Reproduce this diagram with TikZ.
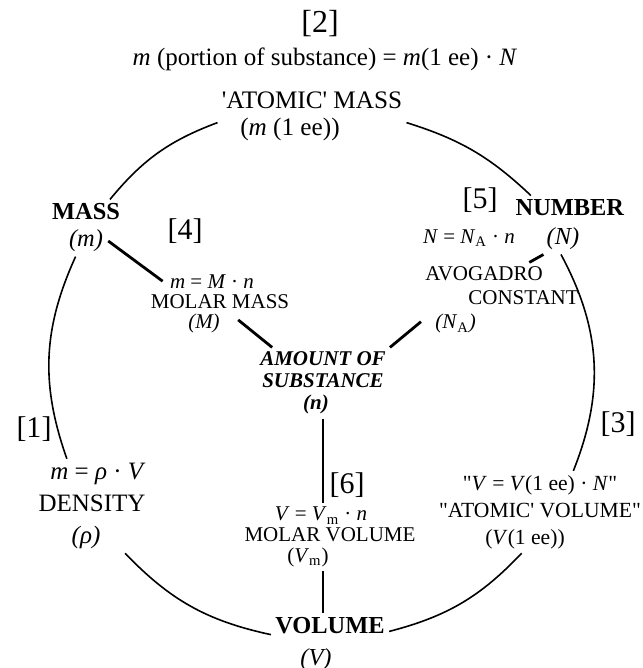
\documentclass[tikz,border=0pt]{standalone}
\usepackage{fontspec}
\setmainfont{Liberation Serif}
\tikzset{tag/.style={font=\fontsize{15}{16}\selectfont,inner sep=1pt},qty/.style={align=center,inner sep=2pt,font=\fontsize{12.2}{13.5}\selectfont},rel/.style={align=center,inner sep=2pt,font=\fontsize{10.5}{10}\selectfont},ring/.style={line width=0.8pt},link/.style={line width=1.4pt}}
\begin{document}
\begin{tikzpicture}[x=0.5pt,y=0.5pt]
\useasboundingbox (0,0) rectangle (642,-668);
\node[tag,font=\fontsize{16}{17}\selectfont] (t2) at (320,-24) {[2]};
\node[font=\fontsize{12.5}{14}\selectfont] (eqm) at (325,-59) {\textit{m} (portion of substance) = \textit{m}(1 ee) · \textit{N}};
\node[qty,font=\fontsize{12.6}{13.5}\selectfont] (atm) at (312,-116) {\textquotesingle ATOMIC\textquotesingle{} MASS\\(\textit{m} (1 ee))\hspace*{22pt}};
\node[qty] (mass) at (86,-228) {\textbf{MASS}\\\textit{(m)}};
\node[qty,font=\fontsize{12.2}{14.5}\selectfont] (number) at (570,-225) {\textbf{NUMBER}\\\textit{(N)}\hspace*{7pt}};
\node[qty,font=\fontsize{12.2}{16}\selectfont] (volume) at (330,-644) {\textbf{VOLUME}\\\textit{(V)}\hspace*{14pt}};
\node[qty,font=\fontsize{12.5}{16}\selectfont] (density) at (92,-506) {\hspace*{6pt}\textit{m} = \textit{ρ} · \textit{V}\\DENSITY\\\textit{(ρ)}\hspace*{6pt}};
\node[rel] (molar) at (220,-304) {\textit{m} = \textit{M} · \textit{n}\hspace*{8pt}\\MOLAR MASS\\\textit{(M)}\hspace*{16pt}};
\node[rel,font=\fontsize{10.5}{11}\selectfont\bfseries\itshape] (amount) at (323,-383) {AMOUNT OF\\SUBSTANCE\\(\textit{n})\hspace*{7pt}};
\node[rel] (eqn) at (469,-238) {\textit{N} = \textit{N}\textsubscript{A} · \textit{n}};
\node[rel,align=left,font=\fontsize{10.5}{12}\selectfont] (avo) at (502,-300) {AVOGADRO\\\hspace*{21.5pt}CONSTANT\\\hspace*{5pt}\textit{(N}\textsubscript{A}\textit{)}};
\node[rel,font=\fontsize{10.5}{10.4}\selectfont] (molvol) at (330,-537) {\textit{V} = \textit{V}\textsubscript{m} · \textit{n}\hspace*{9pt}\\MOLAR VOLUME\\(\textit{V}\textsubscript{m})\hspace*{22pt}};
\node[rel,font=\fontsize{10.8}{13.5}\selectfont] (atvol) at (540,-512) {\textquotedbl\textit{V} = \textit{V}(1 ee) · \textit{N}\textquotedbl\\\textquotedbl ATOMIC\textquotesingle{} VOLUME\textquotedbl\\(\textit{V}(1 ee))\hspace*{15pt}};
\node[tag] (t1) at (34,-429) {[1]};
\node[tag] (t3) at (618,-424) {[3]};
\node[tag] (t4) at (185,-231) {[4]};
\node[tag] (t5) at (480,-200) {[5]};
\node[tag] (t6) at (347,-485) {[6]};
% outer ring
\draw[ring] (atm.184) to[bend right=15] (mass.50);
\draw[ring] (mass.250) to[bend right=22] (density.118);
\draw[ring] (density.305) to[bend right=17] (volume.171);
\draw[ring] (volume.12) to[bend right=16] (atvol.246);
\draw[ring] (atvol.51) to[bend right=25] (number.253);
\draw[ring] (number.143) to[bend right=13] (atm.356);
% links to the amount of substance
\draw[link,shorten <=-10pt,shorten >=-9pt] (mass.-33) -- (molar.155);
\draw[link,shorten <=-14pt] (molar.-40) -- (amount.145);
\draw[link] (number.228) -- (avo.54);
\draw[link] (avo.195) -- (amount.28);
\draw[link] (amount.south) -- (amount.south |- molvol.north);
\draw[link] (amount.south |- molvol.south) -- (amount.south |- volume.north);
\end{tikzpicture}
\end{document}
